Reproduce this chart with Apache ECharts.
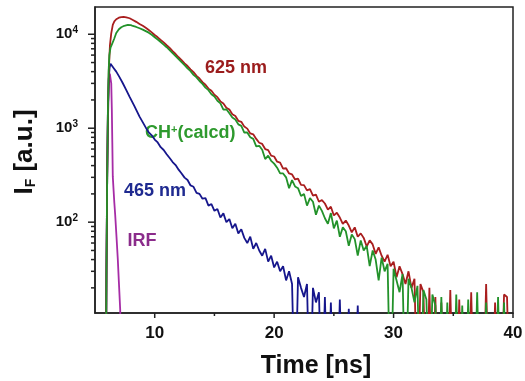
<!DOCTYPE html>
<html>
<head>
<meta charset="utf-8">
<script src="https://cdn.jsdelivr.net/npm/echarts@6/dist/echarts.min.js"></script>
<style>
html, body { margin: 0; padding: 0; background: #fff; }
#main { width: 525px; height: 381px; }
</style>
</head>
<body>
<div id="main"></div>
<script>
// rise and peak of each decay, [time ns, counts]
var redHead = [[5.9,1],[5.96,30],[6.02,300],[6.08,1500],[6.16,4200],[6.25,7600],[6.36,10200],[6.49,12560],[6.62,13700],[6.78,14450],[7.0,15000],[7.2,15250],[7.4,15300],[7.62,15150],[7.9,14800],[8.17,14200],[8.45,13550],[8.73,12870],[9.0,12300],[9.25,11700]];
var greenHead = [[5.9,1],[5.96,30],[6.02,300],[6.08,1500],[6.14,4000],[6.2,6000],[6.3,7200],[6.45,8000],[6.6,8900],[6.78,10300],[7.0,11300],[7.2,11870],[7.45,12300],[7.75,12560],[8.0,12500],[8.17,12250],[8.45,11950],[8.73,11580],[9.0,11200],[9.25,10800]];
var blueHead = [[5.9,1],[5.96,30],[6.02,300],[6.08,1500],[6.14,3200],[6.22,4400],[6.3,4850],[6.36,4900],[6.45,4650],[6.6,4300],[6.78,4000],[7.05,3500],[7.33,3010],[7.6,2580],[7.89,2170],[8.3,1720],[8.73,1330],[9.1,1100],[9.3,990]];
var irfData = [[5.9,1],[5.96,30],[6.02,300],[6.08,1200],[6.16,2800],[6.24,3800],[6.3,3900],[6.36,3000],[6.41,1560],[6.45,700],[6.49,305],[6.56,215],[6.62,160],[6.69,120],[6.8,70],[6.91,40],[7.0,23],[7.11,11.7],[7.15,6],[7.2,1]];

// tails on the 0.25 ns channel grid from 9.5 ns (1 = no counts, off scale)
var tailStart = 9.5, tailStep = 0.25;
var redTail = [
  11090,10470,9830,9280,8700,8190,7640,7150,6600,6160,
  5690,5310,4900,4590,4230,3950,3610,3380,3090,2900,
  2640,2500,2270,2140,1930,1830,1650,1580,1410,1350,
  1200,1170,1040,990,880,860,770,700,680,600,
  585,510,500,440,430,372,375,330,322,285,
  290,250,248,218,225,192,196,165,172,158,
  136,146,118,126,112,96,104,92,78,88,
  70,76,68,55,64,58,46,54,44,38,
  45,34,38,26,34,28,22,30,20,25,
  1,22,18,1,20,1,16,1,14,1,
  1,19,1,1,15,1,1,1,18,1,
  1,1,1,22,1,1,14,1,1,17,
  16,1,1];
var greenTail = [
  10400,9880,9300,8790,8270,7760,7280,6790,6300,5860,
  5440,5040,4690,4330,4050,3700,3470,3180,2960,2700,
  2540,2300,2180,1960,1840,1580,1590,1440,1300,1240,
  1100,1060,900,900,800,770,640,650,590,470,
  510,450,420,380,330,330,300,230,280,240,
  230,190,200,150,180,165,120,150,132,110,
  96,125,86,104,70,88,80,56,74,66,
  44,64,50,56,34,50,40,24,42,30,
  36,1,32,24,18,28,1,25,20,14,
  21,1,19,15,1,17,13,1,16,1,
  14,1,1,17,1,13,1,15,1,1,
  18,1,1,14,1,1,1,16,1,14,
  1,1,1];
var blueTail = [
  905,840,758,705,628,586,528,482,436,405,
  362,330,298,281,246,238,205,200,178,180,
  150,156,132,138,112,124,100,108,86,96,
  76,84,68,60,70,52,60,50,44,52,
  38,44,33,38,30,34,24,30,22,1,
  26,20,16,22,1,20,14,18,1,16,
  1,14,1,1,15,1,1,12,1,1,
  13,1,1];

var xLabels = [10, 20, 30, 40];
var xMinor = [15, 25, 35];
var yLabels = [100, 1000, 10000];
var yMinor = [20,30,40,50,60,70,80,90,200,300,400,500,600,700,800,900,2000,3000,4000,5000,6000,7000,8000,9000];
var xMin = 5, xMax = 40, yMin = 10.8, yMax = 19500;

function joinTail(head, tail) {
  var out = head.slice();
  for (var i = 0; i < tail.length; i++) {
    out.push([tailStart + i * tailStep, tail[i]]);
  }
  return out;
}

var font = '"Liberation Sans", Arial, sans-serif';
var axisColor = '#222';

function lineSeries(name, data, color) {
  return {
    name: name, type: 'line', data: data, showSymbol: false, symbol: 'none',
    clip: true,
    lineStyle: { color: color, width: 1.8 },
    emphasis: { disabled: true }
  };
}

// outside tick marks, placed through the axes' own scales
// (axisTick.customValues is ignored on the log axis)
var xTickData = xLabels.map(function (v) { return [v, yMin, 5]; })
  .concat(xMinor.map(function (v) { return [v, yMin, 3]; }));
var yTickData = yLabels.map(function (v) { return [xMin, v, 7]; })
  .concat(yMinor.map(function (v) { return [xMin, v, 4]; }));

function tickSeries(data, vertical) {
  return {
    type: 'custom', data: data, silent: true, clip: false, z: 5,
    renderItem: function (params, api) {
      var p = api.coord([api.value(0), api.value(1)]);
      var len = api.value(2);
      var shape = vertical
        ? { x1: p[0], y1: p[1], x2: p[0], y2: p[1] + len }
        : { x1: p[0], y1: p[1], x2: p[0] - len, y2: p[1] };
      return { type: 'line', shape: shape, style: { stroke: axisColor, lineWidth: 1.5 } };
    }
  };
}

var chart = echarts.init(document.getElementById('main'));
var option = {
  animation: false,
  backgroundColor: '#fff',
  grid: { left: 95, right: 12, top: 7, bottom: 68, show: true, borderColor: axisColor, borderWidth: 1.5, outerBoundsMode: 'none' },
  xAxis: {
    type: 'value', min: xMin, max: xMax,
    axisLine: { show: true, lineStyle: { color: axisColor, width: 1.5 } },
    axisTick: { show: false },
    axisLabel: { customValues: xLabels, fontFamily: font, fontWeight: 'bold', fontSize: 17, color: '#111', margin: 12 },
    splitLine: { show: false },
    name: 'Time [ns]', nameLocation: 'middle', nameGap: 41,
    nameTextStyle: { fontFamily: font, fontWeight: 'bold', fontSize: 25, color: '#111', padding: [0, 0, 0, 24] }
  },
  yAxis: {
    type: 'log', logBase: 10, min: yMin, max: yMax,
    axisLine: { show: true, lineStyle: { color: axisColor, width: 1.5 } },
    axisTick: { show: false },
    axisLabel: {
      customValues: yLabels, fontFamily: font, fontWeight: 'bold', fontSize: 15, color: '#111', margin: 17, lineHeight: 18,
      formatter: function (v) { return '10{sup|' + Math.round(Math.log10(v)) + '}'; },
      rich: { sup: { fontFamily: font, fontWeight: 'bold', fontSize: 10, color: '#111', verticalAlign: 'top', lineHeight: 10 } }
    },
    splitLine: { show: false },
    name: 'I{sub|F} [a.u.]', nameLocation: 'middle', nameGap: 57, nameRotate: 90,
    nameTextStyle: {
      fontFamily: font, fontWeight: 'bold', fontSize: 26, color: '#111', padding: [0, 0, 0, 16],
      rich: { sub: { fontFamily: font, fontWeight: 'bold', fontSize: 14, color: '#111', verticalAlign: 'bottom' } }
    }
  },
  series: [
    lineSeries('IRF', irfData, '#a62ca6'),
    lineSeries('465 nm', joinTail(blueHead, blueTail), '#16168c'),
    lineSeries('625 nm', joinTail(redHead, redTail), '#a91e1e'),
    lineSeries('CH+(calcd)', joinTail(greenHead, greenTail), '#23922a'),
    tickSeries(xTickData, true),
    tickSeries(yTickData, false)
  ],
  graphic: [
    { type: 'text', x: 236, y: 68, style: { text: '625 nm', fontFamily: font, fontWeight: 'bold', fontSize: 18, fill: '#9b1c1c', align: 'center', verticalAlign: 'middle' } },
    { type: 'text', x: 145, y: 133, style: { text: 'CH{sup|+}(calcd)', fontFamily: font, fontWeight: 'bold', fontSize: 18, fill: '#2e9a2e', align: 'left', verticalAlign: 'middle',
      rich: { sup: { fontFamily: font, fontWeight: 'bold', fontSize: 11, fill: '#2e9a2e', verticalAlign: 'top' } } } },
    { type: 'text', x: 155, y: 191, style: { text: '465 nm', fontFamily: font, fontWeight: 'bold', fontSize: 18, fill: '#1f2a90', align: 'center', verticalAlign: 'middle' } },
    { type: 'text', x: 142, y: 241, style: { text: 'IRF', fontFamily: font, fontWeight: 'bold', fontSize: 18, fill: '#8b2c8b', align: 'center', verticalAlign: 'middle' } }
  ]
};
chart.setOption(option);
</script>
</body>
</html>
